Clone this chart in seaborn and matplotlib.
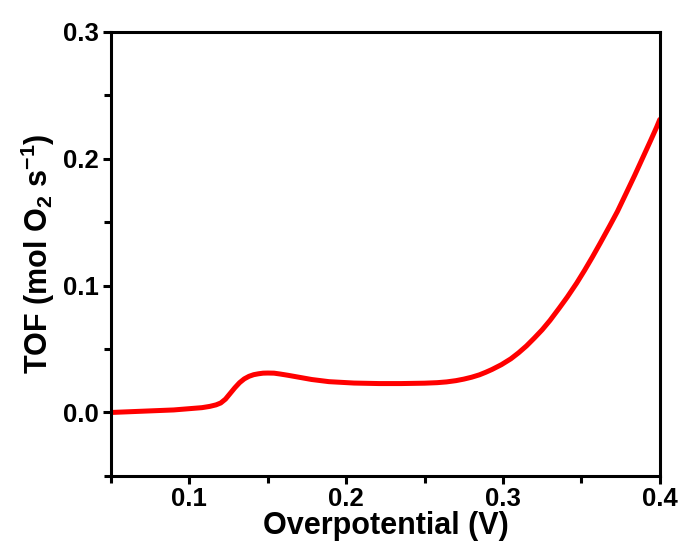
import matplotlib
matplotlib.use("Agg")
import matplotlib.pyplot as plt
import seaborn as sns
import pandas as pd
from matplotlib.ticker import MultipleLocator

# 讀取圖上的數值
overpotential = [0.050, 0.060, 0.070, 0.080, 0.090, 0.100, 0.108, 0.113, 0.117,
                 0.120, 0.123, 0.126, 0.129, 0.132, 0.135, 0.138, 0.141, 0.144,
                 0.147, 0.150, 0.154, 0.158, 0.163, 0.168, 0.178, 0.189, 0.205,
                 0.221, 0.235, 0.250, 0.258, 0.264, 0.270, 0.275, 0.280, 0.285,
                 0.289, 0.293, 0.299, 0.305, 0.310, 0.315, 0.320, 0.325, 0.330,
                 0.336, 0.341, 0.347, 0.352, 0.357, 0.362, 0.368, 0.373, 0.379,
                 0.384, 0.389, 0.394, 0.398, 0.400]
tof = [0.000, 0.0005, 0.001, 0.0015, 0.002, 0.003, 0.0038, 0.0048, 0.006,
       0.0075, 0.0105, 0.015, 0.0195, 0.0235, 0.0265, 0.0285, 0.0298, 0.0305,
       0.031, 0.0311, 0.031, 0.0303, 0.0293, 0.0282, 0.026, 0.0243, 0.0232,
       0.0228, 0.0228, 0.0231, 0.0235, 0.0241, 0.0251, 0.0263, 0.0278, 0.0297,
       0.0317, 0.0339, 0.0377, 0.0423, 0.0471, 0.0525, 0.0587, 0.0652, 0.0726,
       0.0825, 0.091, 0.102, 0.112, 0.1225, 0.1335, 0.147, 0.1585, 0.174,
       0.187, 0.2005, 0.214, 0.225, 0.231]

df = pd.DataFrame({"x": overpotential, "y": tof})

sns.set_style("white")
plt.rcParams['font.family'] = ['Liberation Sans', 'DejaVu Sans']
plt.rcParams['font.weight'] = 'bold'
plt.rcParams['text.color'] = 'black'
plt.rcParams['axes.labelcolor'] = 'black'
plt.rcParams['xtick.color'] = 'black'
plt.rcParams['ytick.color'] = 'black'
plt.rcParams['mathtext.fontset'] = 'custom'
plt.rcParams['mathtext.rm'] = 'Liberation Sans:bold'
plt.rcParams['mathtext.bf'] = 'Liberation Sans:bold'
plt.rcParams['mathtext.default'] = 'bf'

fig = plt.figure(figsize=(6.83, 5.47), dpi=100)
ax = fig.add_axes([0.1625, 0.130, 0.8035, 0.8115])

sns.lineplot(data=df, x="x", y="y", color="#ff0000", linewidth=3.6, ax=ax)

ax.set_xlim(0.05, 0.4)
ax.set_ylim(-0.05, 0.3)
ax.xaxis.set_minor_locator(MultipleLocator(0.05))
ax.yaxis.set_minor_locator(MultipleLocator(0.05))
ax.set_xticks([0.1, 0.2, 0.3, 0.4])
ax.set_xticklabels(["0.1", "0.2", "0.3", "0.4"])
ax.set_yticks([0.0, 0.1, 0.2, 0.3])
ax.set_yticklabels(["0.0", "0.1", "0.2", "0.3"])

for s in ax.spines.values():
    s.set_linewidth(2.2)
    s.set_color("black")

ax.tick_params(which="both", direction="out", top=False, right=False,
               left=True, bottom=True, width=2.2, color="black")
ax.tick_params(which="major", length=6, labelsize=18.5)
ax.tick_params(axis="x", which="major", pad=2)
ax.tick_params(axis="y", which="major", pad=3)
ax.tick_params(which="minor", length=5)

ax.set_xlabel("Overpotential (V)", fontsize=22, fontweight="bold", labelpad=0)
ax.set_ylabel(r"TOF (mol O$_2$ s$^{-1}$)", fontsize=22, fontweight="bold", labelpad=4)

fig.savefig("out.png", dpi=100)
